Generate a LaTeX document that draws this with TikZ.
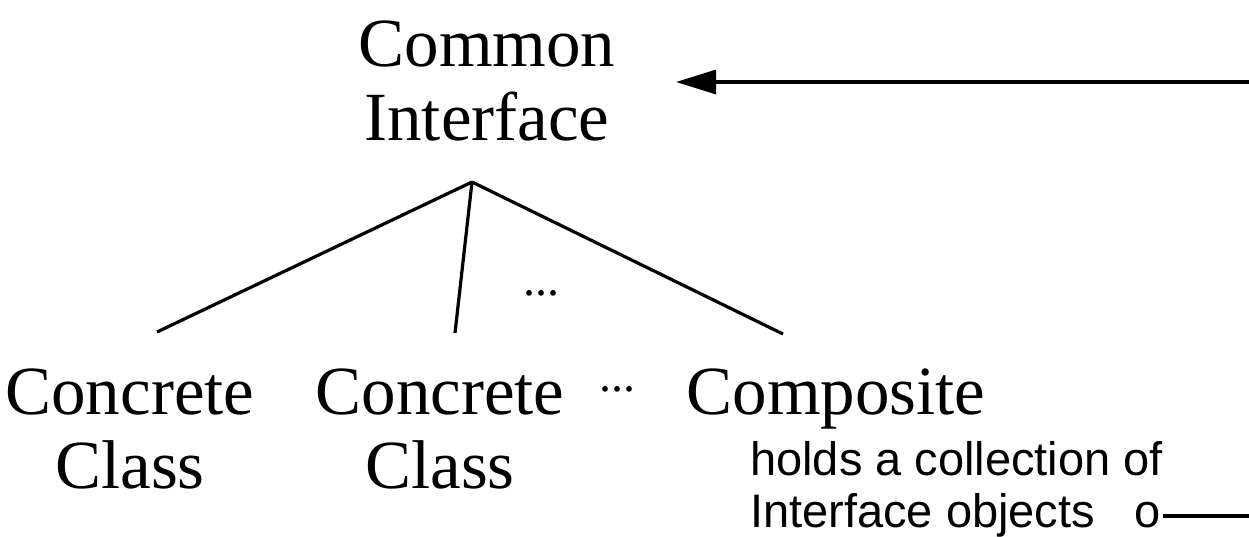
\documentclass[tikz,border=0pt]{standalone}
\usepackage{fontspec}
\setmainfont{Liberation Serif}
\newfontfamily\notefont{Liberation Sans}
\usetikzlibrary{arrows.meta}

\begin{document}
\begin{tikzpicture}[x=1pt,y=-1pt,
    cls/.style={inner sep=0pt,align=center,font=\fontsize{69}{74}\selectfont},
    note/.style={inner sep=0pt,align=left,font=\notefont\fontsize{47}{52}\selectfont},
    dots/.style={inner sep=0pt,font=\fontsize{48}{48}\selectfont},
    link/.style={line width=3.2pt}]
    \useasboundingbox (0,0) rectangle (1249,537);
    % interface and its subclasses
    \node[cls,anchor=north] (iface) at (487,21) {Common\\Interface};
    \node[cls,anchor=north] (conc1) at (130,369) {Concrete\\Class};
    \node[cls,anchor=north] (conc2) at (440,369) {Concrete\\Class};
    \node[cls,anchor=north] (comp) at (836,369) {Composite};
    \node[dots] (gap1) at (541,293) {...};
    \node[dots] (gap2) at (617,389) {...};
    \node[note,anchor=north west] (coll) at (750,441) {holds a collection of\\Interface objects\hspace{0.85em}o};
    % tree lines
    \coordinate (apex) at (472,182);
    \coordinate (end1) at (157,332);
    \coordinate (end2) at (455,333);
    \coordinate (end3) at (783,334);
    \draw[link] (apex) -- (end1);
    \draw[link] (apex) -- (end2);
    \draw[link] (apex) -- (end3);
    % back reference from the collection
    \coordinate (tail) at (1163,516);
    \coordinate (edge1) at (1249,516);
    \coordinate (edge2) at (1249,82);
    \coordinate (head) at (676,82);
    \draw[link] (tail) -- (edge1);
    \draw[link,-{Triangle[length=40pt,width=24pt]}] (edge2) -- (head);
\end{tikzpicture}
\end{document}
